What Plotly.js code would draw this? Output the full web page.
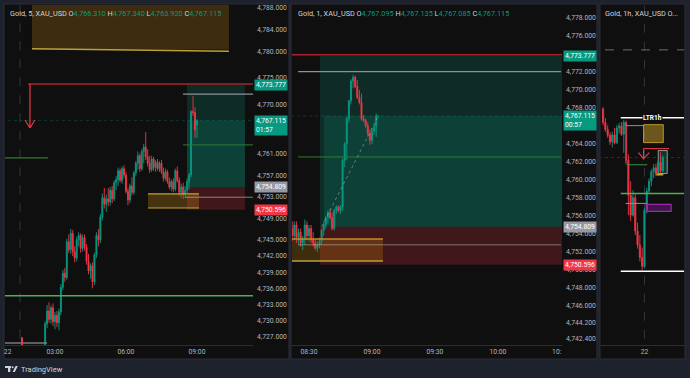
<!DOCTYPE html>
<html><head><meta charset="utf-8">
<script src="https://cdn.plot.ly/plotly-3.0.1.min.js"></script>
<style>html,body{margin:0;padding:0;background:#1e222d;}#chart{width:690px;height:378px;}</style>
</head><body><div id="chart"></div>
<script>
// ---------- Panel 1: Gold 5-minute (x = minutes after 00:00 of the 22nd) ----------
const p1Time = [155,160,165,170,175,180,185,190,195,200,205,210,215,220,225,230,235,240,245,250,255,260,265,270,275,280,285,290,295,300,305,310,315,320,325,330,335,340,345,350,355,360,365,370,375,380,385,390,395,400,405,410,415,420,425,430,435,440,445,450,455,460,465,470,475,480,485,490,495,500,505,510,515,520,525,530,535,540];
const p1Open  = [4725.4,4729.4,4731.8,4730.2,4732.4,4729.8,4731.0,4729.6,4731.6,4736.2,4738.8,4738.0,4744.6,4743.2,4746.2,4742.8,4741.6,4745.0,4745.8,4743.4,4745.4,4743.6,4741.0,4739.2,4740.2,4737.2,4742.2,4745.8,4745.0,4749.2,4752.8,4751.6,4752.6,4752.0,4754.2,4752.6,4755.6,4756.2,4757.8,4756.0,4758.2,4757.0,4754.0,4752.4,4755.0,4753.8,4757.4,4759.2,4760.6,4758.2,4761.4,4762.2,4760.4,4759.2,4758.0,4760.0,4758.4,4759.4,4758.2,4759.2,4757.6,4756.4,4757.6,4755.8,4754.8,4755.8,4754.4,4757.8,4756.0,4753.8,4754.8,4753.4,4754.2,4755.8,4757.0,4768.8,4768.6,4766.31];
const p1High  = [4729.9,4732.9,4733.4,4732.8,4733.2,4731.6,4731.8,4732.2,4736.8,4739.4,4739.8,4745.2,4746.0,4747.0,4746.8,4743.8,4745.6,4746.4,4746.2,4746.0,4746.0,4744.2,4742.4,4740.6,4740.8,4742.6,4746.4,4747.0,4749.8,4753.6,4754.6,4753.4,4754.6,4754.8,4755.0,4756.0,4756.8,4758.4,4758.2,4758.6,4758.8,4757.6,4754.6,4755.4,4756.6,4757.8,4759.6,4761.4,4761.0,4761.8,4762.8,4765.0,4761.8,4760.6,4760.6,4760.4,4759.8,4760.0,4759.6,4759.8,4758.4,4758.2,4758.0,4756.6,4756.2,4756.4,4758.2,4758.6,4756.6,4755.4,4755.6,4755.0,4756.4,4757.4,4769.0,4771.7,4769.6,4767.34];
const p1Low   = [4724.9,4728.6,4729.6,4729.4,4729.0,4728.4,4728.8,4728.2,4731.0,4735.6,4737.2,4737.6,4742.6,4742.4,4742.0,4740.8,4741.0,4743.8,4742.6,4742.8,4743.0,4740.4,4738.6,4737.8,4736.0,4736.6,4741.6,4743.8,4744.4,4748.6,4750.8,4750.2,4751.2,4751.4,4751.8,4752.2,4754.2,4755.0,4755.6,4755.4,4756.4,4753.6,4751.4,4751.8,4753.2,4753.4,4756.8,4758.0,4757.6,4757.8,4759.2,4759.8,4758.6,4757.4,4757.6,4757.8,4757.6,4757.8,4757.6,4757.2,4755.8,4756.0,4755.4,4754.4,4754.0,4753.8,4754.0,4755.6,4753.2,4752.8,4752.6,4752.8,4753.6,4754.4,4756.6,4768.0,4763.9,4763.92];
const p1Close = [4729.4,4731.8,4730.2,4732.4,4729.8,4731.0,4729.6,4731.6,4736.2,4738.8,4738.0,4744.6,4743.2,4746.2,4742.8,4741.6,4745.0,4745.8,4743.4,4745.4,4743.6,4741.0,4739.2,4740.2,4737.2,4742.2,4745.8,4745.0,4749.2,4752.8,4751.6,4752.6,4752.0,4754.2,4752.6,4755.6,4756.2,4757.8,4756.0,4758.2,4757.0,4754.0,4752.4,4755.0,4753.8,4757.4,4759.2,4760.6,4758.2,4761.4,4762.2,4760.4,4759.2,4758.0,4760.0,4758.4,4759.4,4758.2,4759.2,4757.6,4756.4,4757.6,4755.8,4754.8,4755.8,4754.4,4757.8,4756.0,4753.8,4754.8,4753.4,4754.2,4755.8,4757.0,4768.8,4768.6,4765.4,4767.115];
const p1TickVals = [4788,4784,4780,4775,4770,4761,4757,4753,4749,4745,4742,4739,4736,4733,4730,4727];
const p1TimeTicks = [60,180,360,540];
const p1TimeText = ['22','03:00','06:00','09:00'];

// ---------- Panel 2: Gold 1-minute ----------
const p2Time = [502,503,504,505,506,507,508,509,510,511,512,513,514,515,516,517,518,519,520,521,522,523,524,525,526,527,528,529,530,531,532,533,534,535,536,537,538,539,540,541,542,543];
const p2Open  = [4754.6,4753.8,4755.0,4753.6,4754.2,4753.0,4753.4,4755.0,4753.8,4754.6,4753.4,4753.0,4752.4,4752.8,4753.2,4754.4,4755.0,4755.8,4756.4,4755.8,4754.6,4756.6,4757.0,4756.6,4757.0,4762.2,4764.0,4766.8,4768.8,4771.0,4771.4,4770.4,4769.2,4768.6,4766.8,4766.6,4766.0,4765.2,4764.4,4765.4,4765.9,4767.095];
const p2High  = [4755.4,4755.4,4755.4,4754.6,4754.6,4753.8,4755.6,4755.4,4755.0,4755.0,4754.2,4753.4,4753.2,4753.6,4754.6,4755.4,4756.0,4756.6,4756.8,4756.4,4756.8,4757.2,4757.2,4757.2,4762.4,4764.2,4767.0,4768.9,4771.2,4771.7,4771.6,4771.1,4770.0,4769.6,4767.2,4766.8,4766.4,4765.6,4765.8,4766.2,4767.4,4767.135];
const p2Low   = [4753.2,4753.4,4753.0,4752.8,4752.6,4752.2,4752.8,4753.4,4753.2,4753.0,4752.6,4752.2,4752.0,4752.4,4752.8,4753.8,4754.6,4755.2,4755.6,4754.4,4754.4,4756.2,4756.4,4756.2,4756.6,4761.4,4762.2,4766.4,4768.4,4770.2,4770.2,4769.0,4768.4,4766.6,4766.4,4765.8,4764.8,4763.9,4764.0,4765.0,4764.8,4767.085];
const p2Close = [4753.8,4755.0,4753.6,4754.2,4753.0,4753.4,4755.0,4753.8,4754.6,4753.4,4753.0,4752.4,4752.8,4753.2,4754.4,4755.0,4755.8,4756.4,4755.8,4754.6,4756.6,4757.0,4756.6,4757.0,4762.2,4764.0,4766.8,4768.8,4771.0,4771.4,4770.4,4769.2,4768.6,4766.8,4766.6,4766.0,4765.2,4764.4,4765.4,4765.9,4767.1,4767.115];
const p2TickVals = [4778,4776,4772,4770,4768,4764,4762,4760,4758,4756,4754,4752,4750,4748,4746,4744.2,4742.4];
const p2TimeTicks = [510,540,570,600,628];
const p2TimeText = ['08:30','09:00','09:30','10:00','10:'];

// ---------- Panel 3: Gold 1-hour (x = bar index, 0 = session start of the 22nd) ----------
const p3Index = [-18,-17,-16,-15,-14,-13,-12,-11,-10,-9,-8,-7,-6,-5,-4,-3,-2,-1,0,1,2,3,4,5,6,7,8];
const p3Open  = [4786.6,4781.2,4778.4,4776.0,4773.4,4776.2,4773.0,4779.0,4779.8,4776.4,4781.2,4766.0,4752.0,4744.0,4751.0,4737.6,4732.0,4727.0,4723.4,4746.0,4753.6,4757.6,4761.4,4763.0,4760.6,4765.2,4761.8];
const p3High  = [4787.4,4783.0,4780.0,4777.2,4777.4,4779.0,4780.2,4781.0,4781.4,4782.2,4782.0,4768.4,4757.6,4754.0,4752.4,4741.0,4736.0,4731.0,4747.0,4755.0,4758.8,4762.4,4764.4,4764.6,4766.0,4769.2,4768.0];
const p3Low   = [4780.0,4777.4,4775.0,4772.2,4771.2,4772.4,4772.6,4776.8,4775.8,4769.0,4764.6,4744.0,4741.6,4743.4,4736.0,4730.6,4725.4,4721.9,4722.6,4744.6,4752.4,4755.6,4758.8,4759.6,4759.8,4760.8,4761.2];
const p3Close = [4781.2,4778.4,4776.0,4773.4,4776.2,4773.0,4779.0,4779.8,4776.4,4781.2,4766.0,4752.0,4744.0,4751.0,4737.6,4732.0,4727.0,4723.4,4746.0,4753.6,4757.6,4761.4,4763.0,4760.6,4765.2,4761.8,4767.115];

// ---------- Levels ----------
const target = 4773.777, entry = 4754.809, stop = 4750.596, last = 4767.115;

// ---------- helpers ----------
const W = 690, H = 378;
const fx = p => p / W, fy = p => 1 - p / H;
const fmt = v => v.toLocaleString('en-US', {minimumFractionDigits: 3, maximumFractionDigits: 3});
const UP = '#089981', DN = '#f23645';
const FONT = 'Roboto, "Open Sans", sans-serif';

function candle(x, o, h, l, c, xa, ya) {
  return {type: 'candlestick', x, open: o, high: h, low: l, close: c, xaxis: xa, yaxis: ya,
    increasing: {line: {color: UP, width: 0.9}, fillcolor: UP},
    decreasing: {line: {color: DN, width: 0.9}, fillcolor: DN},
    whiskerwidth: 0, hoverinfo: 'skip', showlegend: false};
}
function L(xref, yref, x0, y0, x1, y1, color, width, dash, layer) {
  return {type: 'line', xref, yref, x0, y0, x1, y1, layer: layer || 'above',
    line: {color, width: width || 1, dash: dash || 'solid'}};
}
function R(xref, yref, x0, y0, x1, y1, fill, lc, lw, layer) {
  return {type: 'rect', xref, yref, x0, y0, x1, y1, fillcolor: fill, layer: layer || 'below',
    line: {color: lc || 'rgba(0,0,0,0)', width: lw || 0}};
}

const shapes = [];
// panel backgrounds (paper)
[[4, 289], [291, 597], [600, 685]].forEach(([a, b]) => {
  shapes.push({type: 'rect', xref: 'paper', yref: 'paper', x0: fx(a), x1: fx(b), y0: fy(359), y1: fy(4),
    fillcolor: '#0f0f0f', line: {color: '#2a2e39', width: 1}, layer: 'below'});
});

// ---- Panel 1 drawings
shapes.push(R('x', 'y', 121.7, 4780.3, 621, 4800, 'rgba(235,155,15,0.21)'));
shapes.push(L('x', 'y', 121.7, 4780.45, 621, 4780.0, '#b9a13a', 1.5));
shapes.push(L('x', 'y', 91.3, 4700, 91.3, 4800, '#33363f', 1, 'dash', 'below'));
shapes.push(R('x', 'y', 514.6, entry, 661.6, target, 'rgba(8,153,129,0.2)'));
shapes.push(R('x', 'y', 514.6, entry, 661.6, last, 'rgba(8,153,129,0.2)'));
shapes.push(R('x', 'y', 514.6, stop, 661.6, entry, 'rgba(242,54,69,0.22)'));
shapes.push(L('x', 'y', 111.6, 4773.9, 700, 4773.9, '#a8232d', 1.5));
shapes.push(L('x', 'y', 116.6, 4773.9, 116.6, 4765.74, DN, 1.2));
shapes.push(L('x', 'y', 103.95, 4767.22, 116.6, 4765.74, DN, 1.2));
shapes.push(L('x', 'y', 129.3, 4767.22, 116.6, 4765.74, DN, 1.2));
shapes.push(L('x', 'y', 0, last, 700, last, 'rgba(8,153,129,0.3)', 1, 'dot'));
shapes.push(L('x', 'y', 504.5, 4772.04, 700, 4772.04, '#8e919a', 1.3));
shapes.push(L('x', 'y', 504.5, 4762.6, 700, 4762.6, '#2e7d32', 1));
shapes.push(L('x', 'y', 40, 4760.2, 162, 4760.2, '#2e7d32', 1.2));
shapes.push(R('x', 'y', 415.8, 4750.9, 545, 4753.5, 'rgba(235,160,20,0.25)'));
shapes.push(L('x', 'y', 415.8, 4753.5, 545, 4753.5, '#c9a227', 1.2));
shapes.push(L('x', 'y', 415.8, 4750.9, 545, 4750.9, '#c9a227', 1.2));
shapes.push(L('x', 'y', 509.6, 4752.9, 700, 4752.9, 'rgba(200,200,200,0.6)', 1));
shapes.push(L('x', 'y', 0, 4734.6, 700, 4734.6, '#4caf50', 1.5));
shapes.push(L('x', 'y', 40, 4725.85, 160, 4725.85, '#787b86', 1.5));
shapes.push(L('x', 'y', 96.3, 4725.0, 96.3, 4726.9, DN, 2));

// ---- Panel 2 drawings
shapes.push(R('x2', 'y2', 515.2, entry, 640, target, 'rgba(8,153,129,0.2)'));
shapes.push(R('x2', 'y2', 517.1, entry, 640, last, 'rgba(8,153,129,0.2)'));
shapes.push(R('x2', 'y2', 515.2, stop, 640, entry, 'rgba(242,54,69,0.22)'));
shapes.push(R('x2', 'y2', 490, 4751.0, 545.2, 4753.44, 'rgba(235,150,10,0.22)'));
shapes.push(L('x2', 'y2', 490, 4753.44, 545.2, 4753.44, '#c98a27', 1.5));
shapes.push(L('x2', 'y2', 490, 4751.0, 545.2, 4751.0, '#b9a13a', 1.5));
shapes.push(L('x2', 'y2', 490, 4773.9, 640, 4773.9, '#a8232d', 1.5));
shapes.push(L('x2', 'y2', 490, last, 640, last, 'rgba(8,153,129,0.3)', 1, 'dot'));
shapes.push(L('x2', 'y2', 504.8, 4772.04, 630, 4772.04, '#8e919a', 1.3));
shapes.push(L('x2', 'y2', 504.8, 4762.56, 630, 4762.56, '#2e7d32', 1));
shapes.push(L('x2', 'y2', 504.8, 4752.8, 630, 4752.8, 'rgba(200,200,200,0.5)', 1));
shapes.push(L('x2', 'y2', 516, 4754.8, 543, 4767.1, 'rgba(170,170,170,0.55)', 1, 'dot'));

// ---- Panel 3 drawings
shapes.push(L('x3', 'y3', 0, 4680, 0, 4840, '#33363f', 1, 'dash', 'below'));
shapes.push(L('x3', 'y3', -25, 4810.3, 25, 4810.3, '#6a6d78', 1, 'dash'));
shapes.push(L('x3', 'y3', -10.3, 4783.1, 25, 4783.1, '#ffffff', 1.5));
shapes.push(L('x3', 'y3', -8.2, 4779.9, -0.4, 4779.9, '#8e919a', 1));
shapes.push(L('x3', 'y3', -8.2, 4779.9, -8.2, 4764.7, '#55585f', 1));
shapes.push(R('x3', 'y3', -0.4, 4773.1, 8.2, 4780.3, 'rgba(200,160,40,0.5)', 'rgba(210,175,50,0.8)', 1, 'above'));
shapes.push(L('x3', 'y3', -7.9, 4764.2, 1.2, 4764.2, '#3f8f45', 1));
shapes.push(L('x3', 'y3', -0.4, 4770.7, 10.7, 4770.7, DN, 1));
shapes.push(L('x3', 'y3', -0.4, 4770.7, -0.4, 4766.3, DN, 1));
shapes.push(L('x3', 'y3', -2.6, 4769.1, -0.4, 4766.7, DN, 1.2));
shapes.push(L('x3', 'y3', 2.1, 4769.1, -0.4, 4766.7, DN, 1.2));
shapes.push(L('x3', 'y3', -25, last, 25, last, 'rgba(8,153,129,0.35)', 1, 'dot'));
shapes.push(R('x3', 'y3', 6.0, 4760.7, 9.9, 4769.9, 'rgba(8,153,129,0.3)', 'rgba(200,200,200,0.7)', 1, 'below'));
shapes.push(R('x3', 'y3', 5.2, 4759.9, 8.2, 4760.7, '#c9a227', null, 0, 'above'));
shapes.push(L('x3', 'y3', -10.3, 4752.7, 25, 4752.7, '#4caf50', 1.5));
shapes.push(L('x3', 'y3', -8.2, 4748.7, 1.3, 4748.7, '#8e919a', 1));
shapes.push(R('x3', 'y3', 0.9, 4745.5, 11.6, 4748.3, 'rgba(156,39,176,0.35)', '#9c27b0', 1.2, 'above'));
shapes.push(L('x3', 'y3', -10.3, 4721.5, 25, 4721.5, '#ffffff', 1.5));

// TradingView logo (paper)
const lg = '#d1d4dc';
shapes.push({type: 'rect', xref: 'paper', yref: 'paper', x0: fx(5), x1: fx(11), y0: fy(368), y1: fy(366), fillcolor: lg, line: {width: 0}, layer: 'above'});
shapes.push({type: 'rect', xref: 'paper', yref: 'paper', x0: fx(8), x1: fx(10.3), y0: fy(372), y1: fy(366), fillcolor: lg, line: {width: 0}, layer: 'above'});
shapes.push({type: 'circle', xref: 'paper', yref: 'paper', x0: fx(11.6), x1: fx(13.6), y0: fy(368.2), y1: fy(366.2), fillcolor: lg, line: {width: 0}, layer: 'above'});
shapes.push({type: 'path', xref: 'paper', yref: 'paper', path: `M ${fx(12.6)},${fy(372)} L ${fx(15.6)},${fy(366)} L ${fx(17.8)},${fy(366)} L ${fx(14.8)},${fy(372)} Z`, fillcolor: lg, line: {width: 0}, layer: 'above'});

// ---------- annotations ----------
const ann = [];
function title(x, name, vals) {
  let t = name;
  if (vals) {
    const lab = ['O', 'H', 'L', 'C'];
    t += ' ' + vals.map((v, i) => lab[i] + '<span style="color:#089981">' + fmt(v) + '</span>').join(' ');
  } else t += ' O...';
  ann.push({xref: 'paper', yref: 'paper', x: fx(x), y: fy(13), xanchor: 'left', yanchor: 'middle',
    text: t, showarrow: false, font: {family: FONT, size: 7.3, color: '#d1d4dc'}});
}
title(8, 'Gold, 5, XAU_USD', [4766.310, 4767.340, 4763.920, 4767.115]);
title(296, 'Gold, 1, XAU_USD', [4767.095, 4767.135, 4767.085, 4767.115]);
title(603, 'Gold, 1h, XAU_USD', null);

function tag(xp, yref, y, text, bg, twoLine) {
  ann.push({xref: 'paper', yref, x: fx(xp), y, xanchor: 'left', yanchor: twoLine ? 'top' : 'middle',
    yshift: twoLine ? 5.5 : 0, text, showarrow: false, bgcolor: bg, borderpad: 1, align: 'left',
    font: {family: FONT, size: 6.8, color: '#ffffff'}});
}
tag(254, 'y', target, fmt(target), UP);
tag(254, 'y', last, fmt(last) + '<br>01:57', UP, true);
tag(254, 'y', entry, fmt(entry), '#9598a1');
tag(254, 'y', stop, fmt(stop), DN);
tag(563, 'y2', target, fmt(target), UP);
tag(563, 'y2', last, fmt(last) + '<br>00:57', UP, true);
tag(563, 'y2', entry, fmt(entry), '#9598a1');
tag(563, 'y2', stop, fmt(stop), DN);

ann.push({xref: 'x3', yref: 'y3', x: 3.7, y: 4783.1, text: '<b>LTR1h</b>', showarrow: false,
  bgcolor: '#0f0f0f', borderpad: 0, font: {family: FONT, size: 6.5, color: '#ffffff'}});
ann.push({xref: 'paper', yref: 'paper', x: fx(18.5), y: fy(369), xanchor: 'left', yanchor: 'middle',
  text: 'TradingView', showarrow: false, font: {family: FONT, size: 7.5, color: '#d1d4dc'}});

// ---------- axes ----------
const tickFont = {family: FONT, size: 6.8, color: '#b2b5be'};
const yDom = [fy(345), fy(5)];
function xa(dom, range, tv, tt) {
  return {domain: dom, range, tickvals: tv, ticktext: tt, showgrid: false, zeroline: false,
    showline: true, linecolor: '#2a2e39', linewidth: 1, ticks: '', tickfont: tickFont,
    rangeslider: {visible: false}, fixedrange: true};
}
function ya(anchor, range, tv, show) {
  return {domain: yDom, range, anchor, side: 'right', tickvals: tv || [], ticktext: (tv || []).map(fmt),
    showgrid: false, zeroline: false, showline: false, ticks: '', ticklabelstandoff: 3,
    showticklabels: !!show, tickfont: tickFont, fixedrange: true};
}

const layout = {
  width: W, height: H, margin: {l: 0, r: 0, t: 0, b: 0},
  paper_bgcolor: '#1e222d', plot_bgcolor: '#0f0f0f', showlegend: false, hovermode: false,
  xaxis: Object.assign(xa([fx(5), fx(253)], [53.3, 682], p1TimeTicks, p1TimeText), {anchor: 'y'}),
  yaxis: ya('x', [4725.48, 4788.56], p1TickVals, true),
  xaxis2: Object.assign(xa([fx(292), fx(562)], [501.9, 630.5], p2TimeTicks, p2TimeText), {anchor: 'y2'}),
  yaxis2: ya('x2', [4741.67, 4779.44], p2TickVals, true),
  xaxis3: Object.assign(xa([fx(601), fx(684)], [-18.9, 17.2], [0], ['22']), {anchor: 'y3'}),
  yaxis3: ya('x3', [4691.9, 4828.3], null, false),
  shapes, annotations: ann
};

const data = [
  candle(p1Time, p1Open, p1High, p1Low, p1Close, 'x', 'y'),
  candle(p2Time, p2Open, p2High, p2Low, p2Close, 'x2', 'y2'),
  candle(p3Index, p3Open, p3High, p3Low, p3Close, 'x3', 'y3')
];

Plotly.newPlot('chart', data, layout, {staticPlot: true, displayModeBar: false});
</script></body></html>
